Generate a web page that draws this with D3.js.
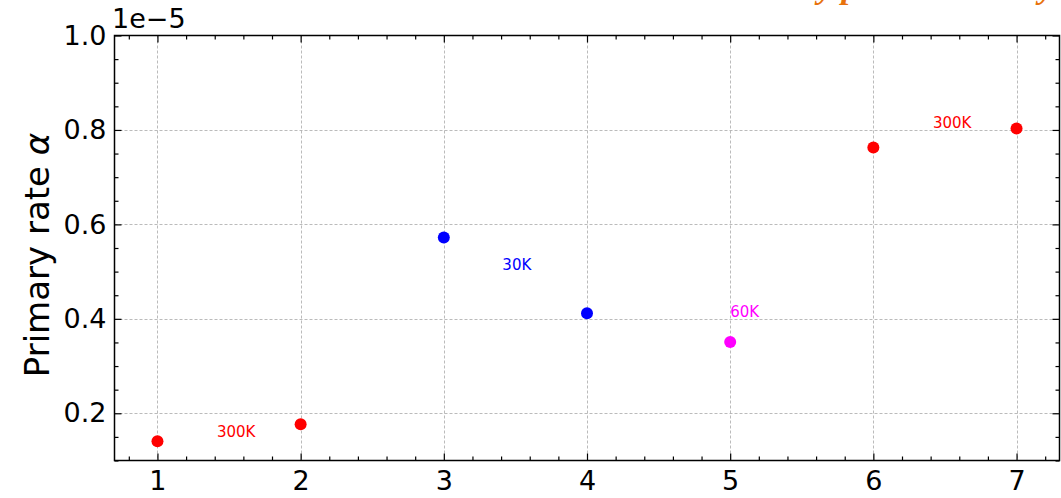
<!DOCTYPE html>
<html><head><meta charset="utf-8">
<script src="https://cdn.jsdelivr.net/npm/d3@7"></script>
<style>body{margin:0;background:#fff;} svg{display:block;}</style>
</head><body>
<svg id="chart" width="1061" height="498"></svg>
<script>
const xValues = [1, 2, 3, 4, 5, 6, 7];
const yValues = [0.141, 0.177, 0.572, 0.412, 0.351, 0.763, 0.803];
const pointColors = ["#ff0000", "#ff0000", "#0000ff", "#0000ff", "#ff00ff", "#ff0000", "#ff0000"];
const labelTexts = ["300K", "30K", "60K", "300K"];
const labelX = [1.55, 3.51, 5.0, 6.55];
const labelY = [0.16, 0.513, 0.414, 0.814];
const labelColors = ["#ff0000", "#0000ff", "#ff00ff", "#ff0000"];
const labelAnchors = ["middle", "middle", "start", "middle"];
const xTicks = [1, 2, 3, 4, 5, 6, 7];
const yTicks = [0.2, 0.4, 0.6, 0.8, 1.0];

const svg = d3.select("#chart");
const L = 114.5, R = 1059.5, T = 35.5, B = 460.5;
const x = d3.scaleLinear().domain([0.7, 7.3]).range([L, R]);
const y = d3.scaleLinear().domain([0.1, 1.0]).range([B, T]);

// clipped title above (only descenders visible, as in reference)
svg.append("text").attr("x", 1054).attr("y", -2).attr("text-anchor", "end")
  .attr("font-family", "Liberation Serif").attr("font-weight", "bold").attr("font-style", "italic")
  .attr("font-size", 34).attr("fill", "#e8720c").text("Rate ordered by particle density");

// grid
const g = svg.append("g");
g.selectAll(".vg").data(xTicks).enter().append("line")
  .attr("x1", d => Math.round(x(d)) + 0.5).attr("x2", d => Math.round(x(d)) + 0.5)
  .attr("y1", T).attr("y2", B).attr("stroke", "#aaa").attr("stroke-width", 0.8).attr("stroke-dasharray", "3,2");
g.selectAll(".hg").data(yTicks.filter(d => d < 1)).enter().append("line")
  .attr("y1", d => Math.round(y(d)) + 0.5).attr("y2", d => Math.round(y(d)) + 0.5)
  .attr("x1", L).attr("x2", R).attr("stroke", "#aaa").attr("stroke-width", 0.8).attr("stroke-dasharray", "3,2");

// axes with inward ticks
const xMinor = d3.range(0.8, 7.3, 0.2).filter(v => Math.abs(v - Math.round(v)) > 0.01);
const yMinor = d3.range(0.1, 1.0001, 0.05).filter(v => Math.abs(v*5 - Math.round(v*5)) > 0.01);
const fmt = d => d.toFixed(1);
const axB = svg.append("g").attr("transform", `translate(0,${B})`)
  .call(d3.axisBottom(x).tickValues(xTicks).tickSize(-7).tickPadding(10).tickFormat(d3.format("d")));
const axBm = svg.append("g").attr("transform", `translate(0,${B})`)
  .call(d3.axisBottom(x).tickValues(xMinor).tickSize(-4).tickFormat(""));
const axT = svg.append("g").attr("transform", `translate(0,${T})`)
  .call(d3.axisTop(x).tickValues(xTicks).tickSize(-7).tickFormat(""));
const axTm = svg.append("g").attr("transform", `translate(0,${T})`)
  .call(d3.axisTop(x).tickValues(xMinor).tickSize(-4).tickFormat(""));
const axL = svg.append("g").attr("transform", `translate(${L},0)`)
  .call(d3.axisLeft(y).tickValues(yTicks).tickSize(-7).tickPadding(8).tickFormat(fmt));
const axLm = svg.append("g").attr("transform", `translate(${L},0)`)
  .call(d3.axisLeft(y).tickValues(yMinor).tickSize(-4).tickFormat(""));
const axR = svg.append("g").attr("transform", `translate(${R},0)`)
  .call(d3.axisRight(y).tickValues(yTicks).tickSize(-7).tickFormat(""));
const axRm = svg.append("g").attr("transform", `translate(${R},0)`)
  .call(d3.axisRight(y).tickValues(yMinor).tickSize(-4).tickFormat(""));
[axB, axBm, axT, axTm, axL, axLm, axR, axRm].forEach(a => {
  a.selectAll("path").remove();
  a.selectAll("line").attr("stroke", "#000").attr("stroke-width", 1.2);
  a.selectAll("text").attr("font-family", "DejaVu Sans").attr("font-size", 27).attr("fill", "#000");
});
svg.append("rect").attr("x", L).attr("y", T).attr("width", R - L).attr("height", B - T)
  .attr("fill", "none").attr("stroke", "#000").attr("stroke-width", 1.5);

// offset text
svg.append("text").attr("x", 112).attr("y", 28).attr("font-family", "DejaVu Sans").attr("font-size", 27)
  .text("1e\u22125");

// y label
svg.append("text").attr("transform", `translate(49,${(T + B) / 2 + 7}) rotate(-90)`).attr("text-anchor", "middle")
  .attr("font-family", "DejaVu Sans").attr("font-size", 34)
  .html('Primary rate <tspan font-style="italic">α</tspan>');

// points
svg.selectAll(".pt").data(xValues).enter().append("circle")
  .attr("cx", (d, i) => x(d)).attr("cy", (d, i) => y(yValues[i])).attr("r", 6)
  .attr("fill", (d, i) => pointColors[i]);

// labels
svg.selectAll(".lb").data(labelTexts).enter().append("text")
  .attr("x", (d, i) => x(labelX[i])).attr("y", (d, i) => y(labelY[i]) + 5)
  .attr("text-anchor", (d, i) => labelAnchors[i])
  .attr("font-family", "DejaVu Sans").attr("font-size", 15)
  .attr("fill", (d, i) => labelColors[i]).text(d => d);
</script>
</body></html>
